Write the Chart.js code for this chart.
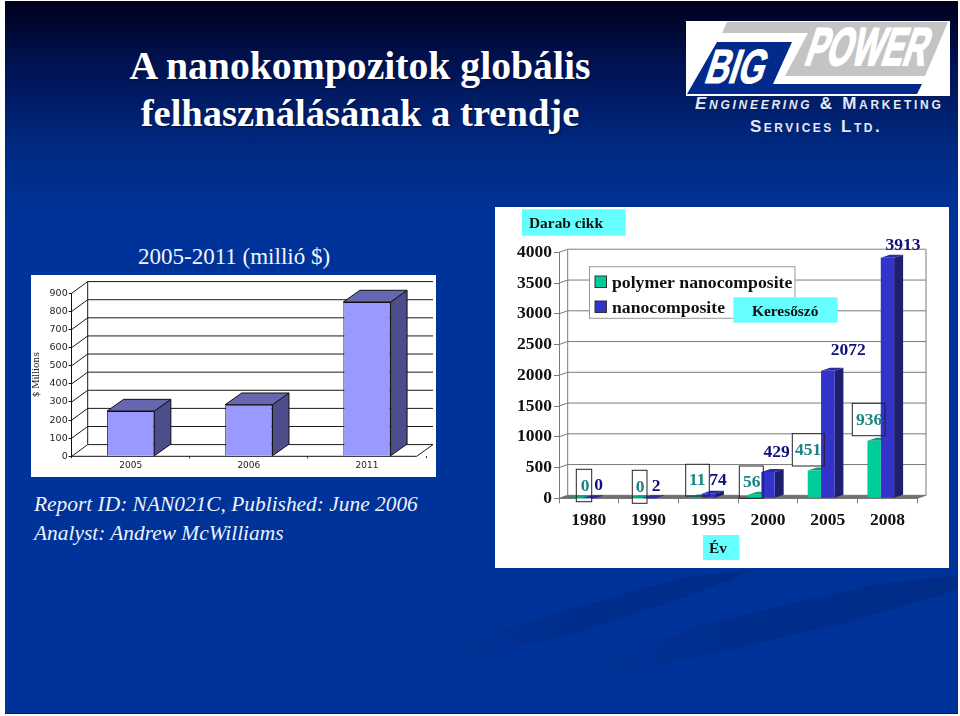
<!DOCTYPE html>
<html>
<head>
<meta charset="utf-8">
<title>A nanokompozitok globális felhasználásának a trendje</title>
<script src="https://cdn.jsdelivr.net/npm/chart.js@4"></script>
<style>
  html,body { margin:0; padding:0; background:#fff; }
  #slide { position:absolute; left:5px; top:1px; width:953px; height:712px; overflow:hidden; border-bottom:1px solid #001a70;
    background:linear-gradient(180deg,#00001c 0,#001250 60px,#002a84 150px,#003399 215px,#003399 100%); }
  #streaks { position:absolute; left:-5px; top:-1px; }
  .t { position:absolute; white-space:nowrap; color:#fff; font-family:"Liberation Serif",serif; }
  .title { font-weight:bold; left:0; width:710px; text-align:center; text-shadow:1px 1px 2px #001040; }
  .sub { font-size:23px; color:#f2f5fb; }
  .rep { font-size:21.4px; font-style:italic; color:#eef2fa; }
  .co { font-family:"Liberation Sans",sans-serif; font-weight:bold; color:#e4e8f2; font-variant:small-caps; font-size:17px; letter-spacing:2.5px; }
  canvas { position:absolute; display:block; background:#fff; }
</style>
</head>
<body>
<div id="slide">
  <svg id="streaks" width="960" height="716">
    <defs>
      <linearGradient id="fade" x1="0" x2="1" y1="0" y2="0">
        <stop offset="0" stop-color="#002c8a" stop-opacity="0"/>
        <stop offset=".45" stop-color="#002c8a" stop-opacity=".8"/>
        <stop offset="1" stop-color="#002c88" stop-opacity="1"/>
      </linearGradient>
    </defs>
    <polygon points="430,652 560,612 680,578 756,569 690,596 570,635 440,664" fill="url(#fade)"/>
    <polygon points="565,676 700,625 870,585 957,575 957,590 850,622 720,652 590,680" fill="url(#fade)"/>
  </svg>
  <div class="t title" style="top:42px;font-size:39.7px">A nanokompozitok globális</div>
  <div class="t title" style="top:90px;font-size:38.6px">felhasználásának a trendje</div>
  <div class="t sub" style="left:133px;top:243px">2005-2011 (millió $)</div>
  <div class="t rep" style="left:29px;top:491px">Report ID: NAN021C, Published: June 2006</div>
  <div class="t rep" style="left:29px;top:520px">Analyst: Andrew McWilliams</div>
  <div class="t co" style="left:690px;top:93px;letter-spacing:2.72px"><i>Engineering</i> &amp; Marketing</div>
  <div class="t co" style="left:745px;top:116px">Services Ltd.</div>
</div>
<svg width="960" height="100" style="position:absolute;left:0;top:0">
  <rect x="686" y="21" width="264" height="75" fill="#fff"/>
  <polygon points="727,22 948,22 925,76 785,76 808,33 722,33" fill="#c4c4c4"/>
  <polygon points="717,42 792,42 773,84 922,84 917,94 687,94" fill="#002a8c"/>
  <text transform="translate(703,83) skewX(-18) scale(1,1.45)" font-family="Liberation Sans" font-weight="bold" font-size="33" fill="#fff" stroke="#fff" stroke-width=".8">BIG</text>
  <text transform="translate(803,65) skewX(-18) scale(1,1.66)" font-family="Liberation Sans" font-weight="bold" font-size="32" fill="#fff" stroke="#fff" stroke-width="1.2">POWER</text>
</svg>

<canvas id="ch-market" width="405" height="202" style="left:31px;top:275px"></canvas>
<canvas id="ch-articles" width="454" height="361" style="left:495px;top:207px"></canvas>

<script>
// market size chart
const marketYears  = ['2005', '2006', '2011'];
const marketValues = [250, 285, 852];
const marketTicks  = [0, 100, 200, 300, 400, 500, 600, 700, 800, 900];

// article count chart
const articleYears   = ['1980', '1990', '1995', '2000', '2005', '2008'];
const polymerCounts  = [0, 0, 11, 56, 451, 936];
const nanoCounts     = [0, 2, 74, 429, 2072, 3913];
const articleTicks   = [0, 500, 1000, 1500, 2000, 2500, 3000, 3500, 4000];
const polymerName    = 'polymer nanocomposite';
const nanoName       = 'nanocomposite';

const SERIF = '"Liberation Serif",serif';

// extruded look: side + top face of a bar, front face comes from chart.js
function barDepth(ctx, el, dx, dy, side, top, line) {
  const x0 = el.x - el.width/2, x1 = el.x + el.width/2, yt = el.y, yb = el.base;
  ctx.lineWidth = line ? 1 : 0;
  ctx.strokeStyle = line || 'transparent';
  ctx.fillStyle = side;
  ctx.beginPath();
  ctx.moveTo(x1,yt); ctx.lineTo(x1+dx,yt-dy); ctx.lineTo(x1+dx,yb-dy); ctx.lineTo(x1,yb);
  ctx.closePath(); ctx.fill(); if (line) ctx.stroke();
  ctx.fillStyle = top;
  ctx.beginPath();
  ctx.moveTo(x0,yt); ctx.lineTo(x0+dx,yt-dy); ctx.lineTo(x1+dx,yt-dy); ctx.lineTo(x1,yt);
  ctx.closePath(); ctx.fill(); if (line) ctx.stroke();
}

// back wall, its grid lines and the slanted lines to the front axis
function drawWalls(chart, dx, dy, color, frontEnd, wallEnd, rightEdge) {
  const ctx = chart.ctx, a = chart.chartArea, y = chart.scales.y;
  ctx.save();
  ctx.strokeStyle = color; ctx.lineWidth = 1;
  ctx.beginPath();
  y.ticks.forEach(t => {
    const p = y.getPixelForValue(t.value);
    ctx.moveTo(a.left, p); ctx.lineTo(a.left+dx, p-dy); ctx.lineTo(wallEnd, p-dy);
  });
  ctx.moveTo(a.left+dx, a.top-dy); ctx.lineTo(a.left+dx, a.bottom-dy);
  if (rightEdge) { ctx.moveTo(wallEnd, a.top-dy); ctx.lineTo(wallEnd, a.bottom-dy); }
  ctx.moveTo(frontEnd, a.bottom); ctx.lineTo(wallEnd, a.bottom-dy);
  ctx.stroke();
  ctx.restore();
}

const marketDepth = {
  id: 'marketDepth',
  beforeDatasetsDraw(chart) {
    const ctx = chart.ctx, a = chart.chartArea;
    drawWalls(chart, 16, 11.7, '#1a1a1a', 385.7, 402, false);
    ctx.save();
    ctx.strokeStyle = '#111'; ctx.lineWidth = 1;
    ctx.beginPath(); ctx.moveTo(a.left, a.bottom); ctx.lineTo(385.7, a.bottom); ctx.stroke();
    chart.getDatasetMeta(0).data.forEach(el => barDepth(ctx, el, 16.5, 11.7, '#4d4d8c', '#6767b0', '#111'));
    ctx.restore();
  }
};

new Chart(document.getElementById('ch-market'), {
  type: 'bar',
  plugins: [marketDepth],
  data: {
    labels: marketYears,
    datasets: [{
      label: '$ Millions', data: marketValues,
      backgroundColor: '#9999ff', borderColor: '#111', borderWidth: 1,
      categoryPercentage: 0.4, barPercentage: 1,
    }],
  },
  options: {
    responsive: false, animation: false, devicePixelRatio: 1,
    layout: { padding: { top: 18.3, right: 10, left: 0, bottom: 0 } },
    plugins: { legend: { display: false }, tooltip: { enabled: false } },
    scales: {
      x: {
        afterFit: s => { s.height = 20.7; },
        grid: { drawOnChartArea: false, tickLength: 2,
                color: c => c.index === marketYears.length ? 'transparent' : '#333' },
        border: { display: false },
        ticks: { font: { family: 'DejaVu Sans', size: 9 }, color: '#222', padding: 2, maxRotation: 0 },
      },
      y: {
        min: 0, max: 900,
        afterFit: s => { s.width = 40.7; },
        afterBuildTicks: s => { s.ticks = marketTicks.map(v => ({ value: v })); },
        grid: { drawOnChartArea: false, color: '#111', tickLength: 3 },
        border: { color: '#111', width: 1 },
        ticks: { font: { family: 'DejaVu Sans', size: 9.5 }, color: '#222', padding: 1, autoSkip: false, callback: v => v },
        title: { display: true, text: '$ Millions', color: '#222', font: { family: 'DejaVu Serif', size: 9 }, padding: 0 },
      },
    },
  },
});

// annotation boxes and value labels sit where the slide author put them (page coords)
const noteBoxes = [
  [576.3,469.3,15.4,32.4], [632.3,470.3,14.7,33], [685.7,464.3,23.6,31.7],
  [739.3,466,24,32.3], [792.3,433.7,32,32.3], [852.3,403.3,32.7,32.4],
];
const polymerPos = [[585,486.5],[640,487],[697.3,480.7],[751.7,482.7],[808,450],[869,420]];
const nanoPos    = [[598.5,485],[656,486],[718,480],[776.7,452.7],[848.3,350.7],[903,245]];
const cyanNotes  = [
  ['Darab cikk', 522, 209.3, 103.7, 26.4, 529],
  ['Keresőszó', 733.3, 297.3, 104.4, 25.4, 752],
  ['Év', 703, 535, 36.3, 25, 709],
];
const ORG_X = 495, ORG_Y = 207;

const articleDepth = {
  id: 'articleDepth',
  beforeDatasetsDraw(chart) {
    const ctx = chart.ctx, a = chart.chartArea;
    drawWalls(chart, 8.7, 3, '#7a7a7a', a.right, a.right+8.7, true);
    ctx.save();
    // top border of back wall a bit lighter
    ctx.strokeStyle = '#aaa'; ctx.lineWidth = 1;
    ctx.beginPath(); ctx.moveTo(a.left+8.7, a.top-3); ctx.lineTo(a.right+8.7, a.top-3); ctx.stroke();
    // white note fills hide the grid, bars still pass over them
    ctx.fillStyle = '#fff';
    noteBoxes.forEach(b => ctx.fillRect(b[0]-ORG_X, b[1]-ORG_Y, b[2], b[3]));
    // floor
    ctx.fillStyle = '#707070';
    ctx.beginPath();
    ctx.moveTo(a.left, a.bottom); ctx.lineTo(a.left+8.7, a.bottom-3);
    ctx.lineTo(a.right+8.7, a.bottom-3); ctx.lineTo(a.right, a.bottom);
    ctx.closePath(); ctx.fill();
    chart.getDatasetMeta(0).data.forEach(el => barDepth(ctx, el, 9, 3, '#008a66', '#00a67c'));
    chart.getDatasetMeta(1).data.forEach(el => barDepth(ctx, el, 9, 3, '#1f1f70', '#2b2ba3'));
    ctx.restore();
  },
  afterDatasetsDraw(chart) {
    const ctx = chart.ctx;
    const ds = chart.data.datasets;
    ctx.save();
    ctx.strokeStyle = '#222'; ctx.lineWidth = 1;
    noteBoxes.forEach(b => ctx.strokeRect(b[0]-ORG_X, b[1]-ORG_Y, b[2], b[3]));

    // legend
    ctx.fillStyle = '#fff'; ctx.strokeStyle = '#999';
    ctx.fillRect(589.5-ORG_X, 266.7-ORG_Y, 205.5, 51.6);
    ctx.strokeRect(589.5-ORG_X, 266.7-ORG_Y, 205.5, 51.6);
    [[276, ds[0]], [301, ds[1]]].forEach(([ly, d]) => {
      ctx.fillStyle = d.backgroundColor; ctx.strokeStyle = '#333';
      ctx.fillRect(595-ORG_X, ly-ORG_Y, 11.5, 11.5);
      ctx.strokeRect(595-ORG_X, ly-ORG_Y, 11.5, 11.5);
      ctx.fillStyle = '#111'; ctx.font = 'bold 17.7px ' + SERIF;
      ctx.textAlign = 'left'; ctx.textBaseline = 'middle';
      ctx.fillText(d.label, 612-ORG_X, ly+7.5-ORG_Y);
    });

    // cyan captions
    cyanNotes.forEach(n => {
      ctx.fillStyle = '#66ffff';
      ctx.fillRect(n[1]-ORG_X, n[2]-ORG_Y, n[3], n[4]);
      ctx.fillStyle = '#111'; ctx.font = 'bold 15.4px ' + SERIF;
      ctx.textAlign = 'left'; ctx.textBaseline = 'middle';
      ctx.fillText(n[0], n[5]-ORG_X, n[2]+n[4]/2-ORG_Y+2);
    });

    // value labels
    ctx.font = 'bold 17.5px ' + SERIF;
    ctx.textAlign = 'center'; ctx.textBaseline = 'middle';
    ctx.fillStyle = '#1a8585';
    polymerCounts.forEach((v, i) => ctx.fillText(v, polymerPos[i][0]-ORG_X, polymerPos[i][1]-ORG_Y));
    ctx.fillStyle = '#10107a';
    nanoCounts.forEach((v, i) => ctx.fillText(v, nanoPos[i][0]-ORG_X, nanoPos[i][1]-ORG_Y));
    ctx.restore();
  }
};

new Chart(document.getElementById('ch-articles'), {
  type: 'bar',
  plugins: [articleDepth],
  data: {
    labels: articleYears,
    datasets: [
      { label: polymerName, data: polymerCounts, backgroundColor: '#00cc99', categoryPercentage: 0.67, barPercentage: 1 },
      { label: nanoName, data: nanoCounts, backgroundColor: '#3333cc', categoryPercentage: 0.67, barPercentage: 1 },
      // empty third series, the original groups leave its slot free
      { label: '', data: [], backgroundColor: 'transparent', categoryPercentage: 0.67, barPercentage: 1 },
    ],
  },
  options: {
    responsive: false, animation: false, devicePixelRatio: 1,
    layout: { padding: { top: 45.3, right: 31.7, left: 0, bottom: 0 } },
    plugins: { legend: { display: false }, tooltip: { enabled: false } },
    scales: {
      x: {
        afterFit: s => { s.height = 69.7; },
        grid: { drawOnChartArea: false, color: '#7a7a7a', tickLength: 5 },
        border: { color: '#7a7a7a', width: 1 },
        ticks: { font: { family: SERIF, size: 17.5, weight: 'bold' }, color: '#111', padding: 7, maxRotation: 0 },
      },
      y: {
        min: 0, max: 4000,
        afterFit: s => { s.width = 64; },
        afterBuildTicks: s => { s.ticks = articleTicks.map(v => ({ value: v })); },
        grid: { drawOnChartArea: false, color: '#7a7a7a', tickLength: 5 },
        border: { color: '#7a7a7a', width: 1 },
        ticks: { font: { family: SERIF, size: 17.5, weight: 'bold' }, color: '#111', padding: 2, autoSkip: false, callback: v => v },
      },
    },
  },
});
</script>
</body>
</html>
